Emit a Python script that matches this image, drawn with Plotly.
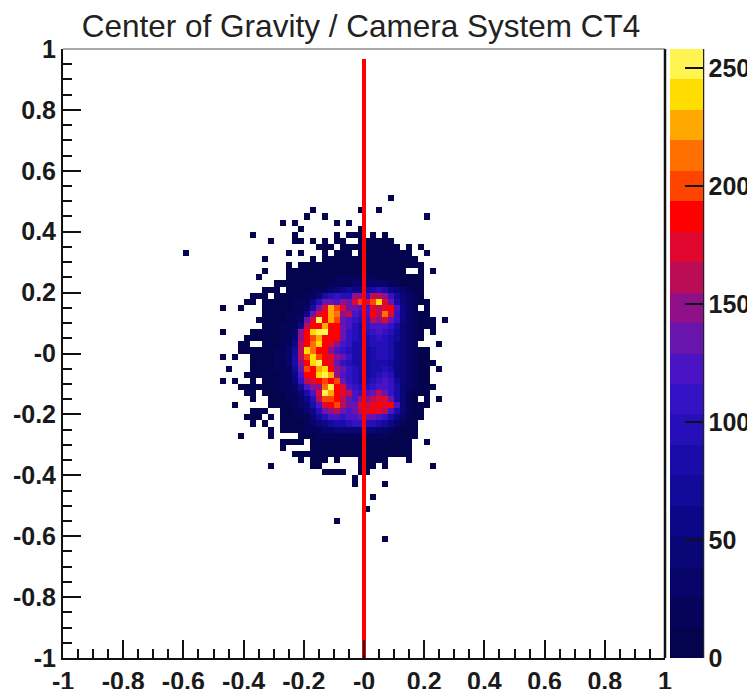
import numpy as np
import plotly.graph_objects as go

TITLE = "Center of Gravity / Camera System CT4"
N_BINS = 100
ZMAX = 258

BAND_COLORS = ["#04044E", "#05045A", "#07056A", "#090678", "#0C0788", "#120A98", "#1A0CA8", "#260FB8",
               "#3212C4", "#4A14C4", "#6A14AE", "#8F1088", "#BC0C55", "#E0082E", "#FF0000", "#FF4400",
               "#FF7000", "#FFA800", "#FFDD00", "#FFF450"]

AXIS_TICKS = [-1, -0.8, -0.6, -0.4, -0.2, 0, 0.2, 0.4, 0.6, 0.8, 1]
AXIS_LABELS = ["-1", "-0.8", "-0.6", "-0.4", "-0.2", "-0", "0.2", "0.4", "0.6", "0.8", "1"]
BAR_TICKS = [0, 50, 100, 150, 200, 250]

# row index counted from the top edge, first filled column, counts (0 = empty bin)
row_index = list(range(24, 81))
row_start = [54, 0, 41, 40, 36, 39, 31, 34, 42, 20, 33, 37, 33, 32, 35, 33, 31, 30, 26, 33, 32, 33, 26, 30, 29, 29, 26, 31,
             27, 30, 26, 29, 30, 31, 28, 31, 30, 31, 34, 29, 36, 36, 38, 39, 34, 43, 48, 48, 0, 51, 0, 50, 0, 45, 0, 0, 53]
row_counts = [
    [1],
    [],
    [1, 0, 0, 0, 0, 0, 0, 0, 1, 0, 0, 1],
    [1, 0, 0, 1, 0, 0, 0, 0, 0, 0, 0, 0, 0, 0, 0, 0, 0, 0, 0, 0, 1],
    [1, 0, 1, 0, 0, 0, 0, 0, 0, 1, 0, 1],
    [1, 0, 0, 0, 0, 0, 0, 0, 0, 0, 1],
    [1, 0, 0, 0, 0, 0, 0, 1, 0, 0, 0, 0, 0, 0, 1, 0, 1, 1, 1, 0, 1, 0, 1],
    [1, 0, 0, 0, 1, 1, 0, 1, 0, 1, 0, 1, 1, 0, 0, 1, 1, 1, 1, 1, 1],
    [1, 2, 1, 0, 1, 2, 2, 3, 3, 2, 3, 2, 2, 1, 0, 1, 0, 1],
    [1, 0, 0, 0, 0, 0, 0, 0, 0, 0, 0, 0, 0, 0, 0, 0, 0, 1, 0, 1, 0, 0, 0, 1, 0, 1, 2, 1, 0, 2, 3, 3, 3, 3, 2, 2, 1, 1, 0, 0, 1],
    [1, 0, 0, 0, 0, 0, 0, 0, 1, 0, 1, 1, 2, 2, 3, 3, 3, 4, 4, 4, 3, 3, 2, 2, 1, 1],
    [1, 0, 1, 1, 1, 2, 2, 3, 3, 4, 5, 6, 6, 5, 6, 6, 5, 4, 3, 2, 2, 1, 1],
    [1, 0, 0, 0, 1, 1, 1, 2, 2, 3, 4, 5, 6, 7, 8, 8, 9, 9, 8, 6, 5, 3, 2, 1, 0, 0, 1, 0, 1],
    [1, 0, 0, 0, 0, 2, 3, 3, 4, 5, 6, 8, 10, 13, 15, 16, 16, 17, 17, 15, 12, 9, 7, 5, 3, 2, 2, 1],
    [4, 5, 7, 8, 8, 9, 10, 11, 12, 14, 17, 20, 24, 26, 26, 28, 30, 30, 26, 20, 15, 12, 9, 7, 5],
    [1, 2, 2, 0, 5, 7, 9, 11, 13, 16, 24, 34, 46, 58, 70, 60, 58, 72, 86, 98, 84, 60, 44, 26, 16, 10, 6],
    [2, 1, 3, 0, 4, 6, 8, 10, 12, 15, 19, 44, 84, 98, 112, 96, 100, 148, 150, 112, 162, 164, 150, 112, 72, 44, 26, 15, 10],
    [2, 1, 0, 3, 6, 6, 8, 10, 13, 16, 22, 60, 100, 136, 136, 124, 150, 136, 176, 200, 176, 204, 240, 176, 136, 86, 46, 28, 16, 10, 6],
    [1, 0, 0, 1, 0, 0, 0, 3, 5, 7, 9, 12, 15, 20, 34, 86, 136, 176, 226, 202, 176, 136, 136, 124, 124, 176, 162, 176, 188, 124, 58, 32, 18, 0, 4],
    [2, 5, 8, 10, 13, 17, 24, 60, 136, 176, 188, 226, 214, 150, 162, 124, 110, 124, 188, 162, 214, 176, 110, 60, 34, 20, 12, 8],
    [1, 3, 6, 9, 12, 15, 20, 32, 136, 176, 253, 188, 227, 201, 136, 124, 110, 98, 110, 162, 149, 176, 136, 110, 60, 34, 20, 12, 7, 3, 0, 1],
    [4, 7, 10, 13, 17, 24, 60, 162, 188, 188, 227, 188, 188, 136, 124, 98, 84, 110, 124, 124, 124, 110, 84, 46, 32, 18, 12, 6, 2],
    [1, 0, 0, 0, 0, 2, 3, 5, 7, 11, 15, 20, 32, 149, 188, 240, 253, 253, 188, 188, 136, 110, 98, 84, 98, 110, 124, 110, 98, 72, 46, 30, 16, 9, 0, 1],
    [1, 2, 4, 6, 9, 12, 16, 22, 46, 149, 188, 201, 227, 188, 188, 188, 136, 110, 98, 84, 84, 98, 110, 98, 84, 72, 46, 26, 15, 9],
    [1, 2, 0, 0, 5, 9, 12, 16, 22, 58, 162, 188, 214, 240, 188, 175, 149, 124, 110, 84, 84, 84, 98, 98, 98, 84, 60, 44, 26, 14, 0, 0, 0, 1],
    [1, 3, 5, 6, 7, 9, 13, 17, 26, 72, 162, 240, 214, 188, 188, 149, 124, 110, 98, 84, 84, 72, 84, 98, 98, 84, 58, 44, 26, 14, 7, 3],
    [1, 0, 1, 0, 0, 3, 4, 7, 9, 13, 18, 26, 84, 162, 201, 240, 201, 188, 175, 149, 136, 110, 84, 84, 72, 84, 98, 98, 84, 58, 44, 26, 13, 7, 2],
    [2, 3, 7, 10, 13, 18, 26, 84, 149, 188, 240, 253, 188, 175, 136, 110, 98, 84, 84, 72, 84, 84, 84, 72, 58, 44, 26, 13, 7, 3, 1],
    [1, 0, 0, 0, 1, 3, 6, 9, 13, 18, 24, 72, 136, 201, 188, 227, 240, 188, 149, 136, 110, 98, 84, 72, 84, 84, 98, 84, 60, 44, 26, 14, 6, 3, 0, 1],
    [1, 1, 4, 7, 9, 12, 17, 24, 58, 124, 188, 188, 240, 253, 227, 149, 124, 110, 98, 84, 72, 84, 98, 110, 98, 60, 44, 26, 13, 6, 2],
    [1, 0, 1, 0, 0, 1, 0, 5, 8, 11, 15, 22, 44, 110, 162, 175, 188, 201, 188, 201, 136, 110, 98, 84, 84, 98, 110, 124, 110, 72, 44, 26, 13, 6, 2],
    [1, 1, 2, 3, 5, 7, 10, 14, 20, 32, 72, 124, 149, 149, 214, 253, 188, 175, 124, 110, 98, 98, 110, 124, 124, 110, 84, 46, 26, 13, 6, 2, 1],
    [1, 1, 0, 3, 6, 9, 12, 17, 24, 46, 84, 124, 175, 253, 227, 188, 175, 162, 124, 110, 124, 136, 162, 136, 110, 84, 44, 24, 12, 5, 1],
    [1, 0, 0, 3, 6, 9, 13, 20, 32, 60, 98, 162, 201, 201, 188, 162, 136, 124, 149, 149, 162, 175, 175, 136, 84, 44, 22, 6, 0, 2, 0, 1],
    [1, 0, 0, 0, 0, 0, 2, 4, 7, 11, 17, 26, 46, 84, 124, 175, 188, 201, 162, 136, 136, 175, 162, 175, 188, 175, 188, 124, 46, 20, 10, 5, 2],
    [1, 2, 1, 0, 0, 4, 8, 13, 20, 32, 58, 98, 136, 149, 162, 136, 124, 136, 162, 175, 188, 175, 162, 124, 84, 44, 20, 9, 3],
    [1, 2, 1, 0, 1, 0, 3, 6, 10, 16, 24, 44, 72, 98, 124, 124, 110, 124, 124, 136, 136, 136, 124, 110, 84, 60, 32, 14, 7, 3],
    [1, 0, 1, 0, 0, 2, 4, 8, 12, 18, 28, 46, 60, 72, 84, 84, 98, 110, 110, 98, 98, 84, 72, 58, 34, 20, 10, 4],
    [1, 0, 2, 3, 6, 9, 13, 18, 24, 32, 34, 44, 46, 46, 44, 44, 44, 44, 34, 28, 22, 15, 10, 6, 3],
    [1, 0, 0, 0, 0, 1, 0, 0, 0, 0, 3, 8, 11, 14, 16, 18, 20, 22, 22, 22, 20, 20, 20, 18, 14, 12, 10, 7, 4, 2],
    [1, 2, 1, 1, 0, 5, 6, 8, 9, 11, 12, 12, 11, 10, 11, 10, 9, 8, 7, 5, 3, 2, 0, 0, 1],
    [1, 0, 0, 0, 0, 3, 4, 5, 6, 7, 7, 7, 6, 6, 7, 6, 6, 5, 4, 3, 2, 1],
    [1, 1, 1, 2, 3, 3, 3, 4, 4, 4, 4, 4, 3, 4, 3, 3, 2, 2, 1, 1],
    [1, 0, 1, 2, 1, 0, 1, 0, 0, 0, 1, 2, 2, 1, 1, 0, 0, 0, 1],
    [1, 0, 0, 0, 0, 0, 0, 1, 1, 0, 0, 0, 0, 0, 0, 1, 1, 1, 0, 1, 0, 0, 0, 0, 0, 0, 0, 1],
    [1, 1, 1, 1, 0, 0, 1, 1],
    [1],
    [1, 0, 0, 0, 0, 1],
    [],
    [1],
    [],
    [1],
    [],
    [1],
    [],
    [],
    [1],
]

edges = np.linspace(-1, 1, N_BINS + 1)
centers = (edges[:-1] + edges[1:]) / 2
z = [[None] * N_BINS for _ in range(N_BINS)]
for k, start, counts in zip(row_index, row_start, row_counts):
    for offset, value in enumerate(counts):
        if value:
            z[N_BINS - 1 - k][start + offset] = value

n = len(BAND_COLORS)
colorscale = []
for b, c in enumerate(BAND_COLORS):
    colorscale += [[b / n, c], [(b + 1) / n, c]]

# the page body has an 8 px margin, so the figure is drawn 8 px in from the window corner
PAGE = 8
W, H = 755 - PAGE, 689 - PAGE
L, R, T, B = 63 - PAGE, 665 - PAGE, 49 - PAGE, 658 - PAGE
PLOT_W = R - L
PLOT_H = B - T
FONT = "Liberation Sans"
TICK_FONT = dict(family=FONT, size=25, color="#1a1a1a", weight="bold")

fig = go.Figure()
fig.add_trace(go.Heatmap(
    x=centers, y=centers, z=z, zmin=0, zmax=ZMAX, colorscale=colorscale, zsmooth=False,
    xgap=0, ygap=0, hoverongaps=False,
    colorbar=dict(
        x=(670 - PAGE - L) / PLOT_W, xanchor="left", xpad=0, y=0, yanchor="bottom", ypad=0,
        len=1, lenmode="fraction", thickness=33, thicknessmode="pixels",
        tickmode="array", tickvals=BAR_TICKS, ticktext=[str(v) for v in BAR_TICKS],
        ticks="inside", ticklen=18, tickwidth=2, tickcolor="#111111",
        tickfont=TICK_FONT, outlinewidth=0, ticklabelposition="outside",
    ),
))
fig.add_trace(go.Scatter(
    x=[0, 0], y=[-1, 0.967], mode="lines", line=dict(color="#FF0000", width=4),
    showlegend=False, hoverinfo="skip",
))

axis_common = dict(
    range=[-1, 1], tickmode="array", tickvals=AXIS_TICKS, ticktext=AXIS_LABELS,
    ticks="inside", ticklen=18, tickwidth=2, tickcolor="#111111",
    tickfont=TICK_FONT, showgrid=False, zeroline=False,
    showline=True, linecolor="#111111", linewidth=2,
    minor=dict(tick0=-1, dtick=0.05, ticks="inside", ticklen=9, tickwidth=2, tickcolor="#111111", showgrid=False),
)
fig.update_layout(
    width=W, height=H, autosize=False,
    margin=dict(l=L, r=W - R, t=T, b=H - B, autoexpand=False),
    paper_bgcolor="white", plot_bgcolor="white",
    title=dict(text=TITLE, x=(361 - PAGE) / W, xanchor="center", xref="container",
               y=1 - (26 - PAGE) / H, yanchor="middle", yref="container",
               font=dict(family=FONT, size=31.5, color="#222222")),
    xaxis=dict(**axis_common),
    yaxis=dict(**axis_common),
    shapes=[
        dict(type="line", xref="paper", yref="paper", x0=1, x1=1, y0=0, y1=1,
             line=dict(color="#111111", width=2.5)),
        dict(type="line", xref="paper", yref="paper", x0=0, x1=1, y0=1, y1=1,
             line=dict(color="#555555", width=1)),
        dict(type="line", xref="paper", yref="paper", x0=(703.5 - 63) / PLOT_W, x1=(703.5 - 63) / PLOT_W, y0=0, y1=1,
             line=dict(color="#222222", width=1.5)),
    ],
)
fig.write_html("out.html")
